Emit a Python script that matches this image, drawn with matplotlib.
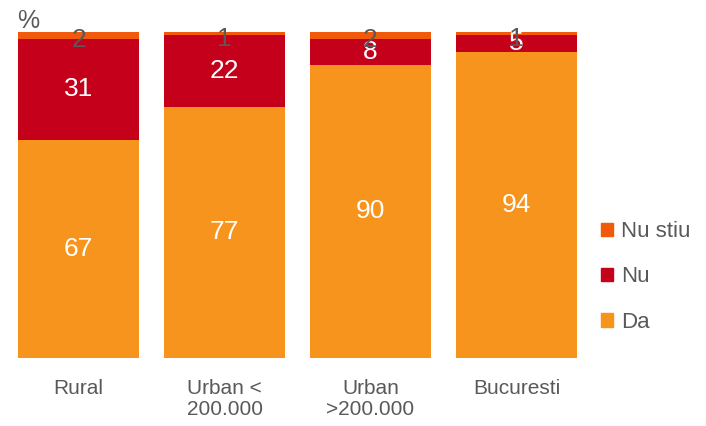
import numpy as np
import matplotlib
matplotlib.use('Agg')
import matplotlib.pyplot as plt
from matplotlib.patches import Patch

plt.rcParams['font.family'] = ['Liberation Sans', 'DejaVu Sans']

categories = ['Rural', 'Urban <\n200.000', 'Urban\n>200.000', 'Bucuresti']
da = [67, 77, 90, 94]
nu = [31, 22, 8, 5]
nu_stiu = [2, 1, 2, 1]

c_da = '#F7941D'
c_nu = '#C4001A'
c_ns = '#F15A0A'
gray = '#595959'

fig = plt.figure(figsize=(7.06, 4.26), dpi=100)
ax = fig.add_axes([18 / 706, (426 - 358) / 426, (577 - 18) / 706, (358 - 32) / 426])

x = np.arange(len(categories))
w = 0.83
da_a = np.array(da)
nu_a = np.array(nu)
ns_a = np.array(nu_stiu)
ax.bar(x, da_a, w, color=c_da)
ax.bar(x, nu_a, w, bottom=da_a, color=c_nu)
ax.bar(x, ns_a, w, bottom=da_a + nu_a, color=c_ns)

for i in range(len(x)):
    ax.text(x[i], da_a[i] / 2, str(da[i]), color='white', fontsize=19, ha='center', va='center')
    ax.text(x[i], da_a[i] + nu_a[i] / 2, str(nu[i]), color='white', fontsize=19, ha='center', va='center')
    ax.text(x[i], da_a[i] + nu_a[i] + ns_a[i] / 2 - 1.5, str(nu_stiu[i]), color=gray, fontsize=19,
            ha='center', va='center')

ax.set_xlim(-w / 2, len(x) - 1 + w / 2)
ax.set_ylim(0, 100)
ax.set_xticks(x)
ax.set_xticklabels(categories, fontsize=15, color=gray, linespacing=1.15)
ax.tick_params(axis='x', length=0, pad=15)
ax.set_yticks([])
for s in ax.spines.values():
    s.set_visible(False)

fig.text(17 / 706, 1 - 21 / 426, '%', fontsize=18, color=gray, ha='left', va='center')

handles = [Patch(color=c_ns, label='Nu stiu'), Patch(color=c_nu, label='Nu'), Patch(color=c_da, label='Da')]
fig.legend(handles=handles, loc='center left', bbox_to_anchor=(581 / 706, 1 - 277 / 426),
           frameon=False, fontsize=16, labelcolor=gray, handlelength=0.55, handleheight=0.55,
           handletextpad=0.35, labelspacing=1.1)

fig.savefig('out.png', dpi=100)
